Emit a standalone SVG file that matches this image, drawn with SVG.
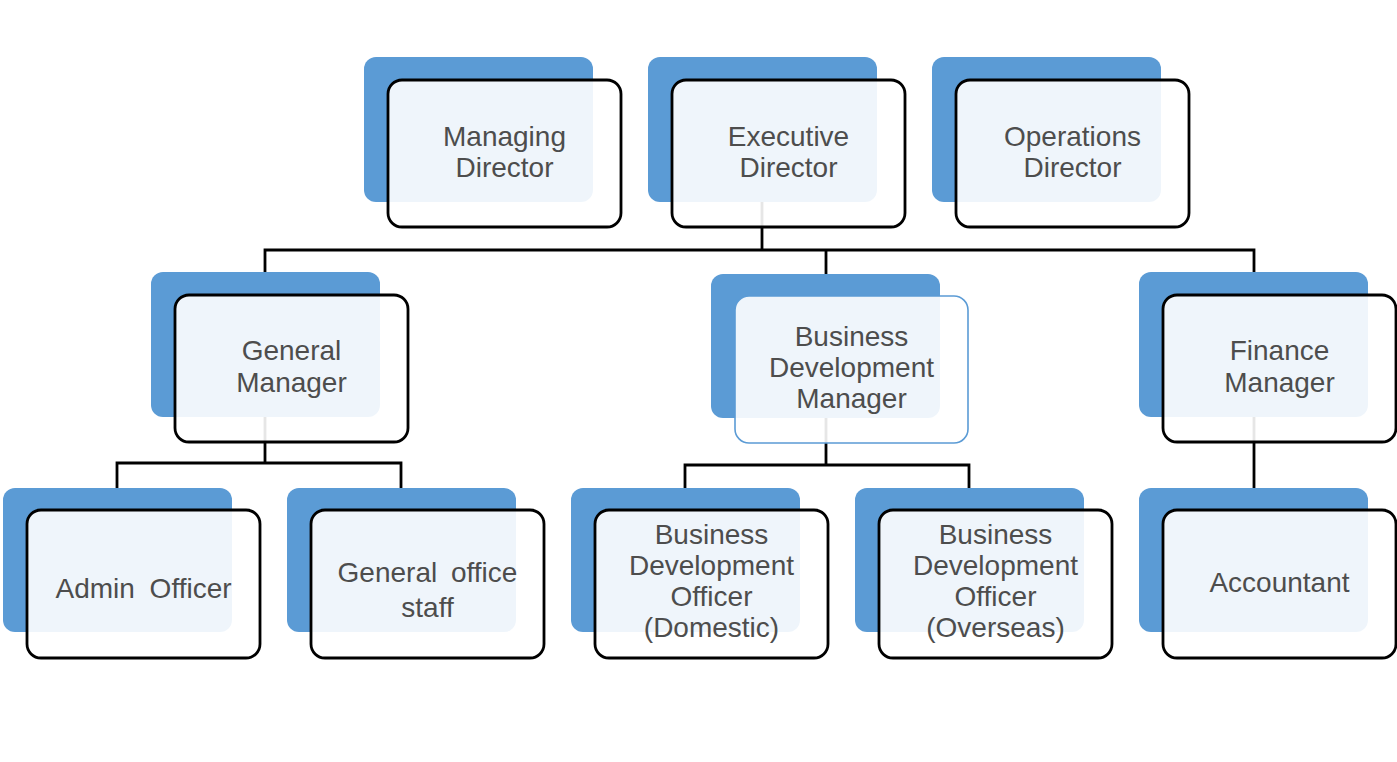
<svg xmlns="http://www.w3.org/2000/svg" width="1397" height="762" viewBox="0 0 1397 762">
<style>
.bg{fill:#5B9BD5}
.fr{fill:#FFFFFF;fill-opacity:0.9;stroke:#000000;stroke-width:2.8}
.frb{fill:#FFFFFF;fill-opacity:0.9;stroke:#5B9BD5;stroke-width:1.6}
.t{font-family:"Liberation Sans",Arial,sans-serif;font-size:28px;fill:#4D4D4D;text-anchor:middle}
.c{fill:none;stroke:#000000;stroke-width:2.8}
</style>
<rect width="1397" height="762" fill="#FFFFFF"/>
<g id="connectors">
<path class="c" d="M762 202 V250"/>
<path class="c" d="M265 272 V250 H1254 V272"/>
<path class="c" d="M826 250 V274"/>
<path class="c" d="M265 417 V463"/>
<path class="c" d="M117 488 V463 H401 V488"/>
<path class="c" d="M826 418 V465"/>
<path class="c" d="M685 488 V465 H969 V488"/>
<path class="c" d="M1254 417 V488"/>
</g>
<g id="managing-director">
<rect class="bg" x="364" y="57" width="229" height="145" rx="12"/>
<rect class="fr" x="388" y="80" width="233" height="147" rx="14"/>
<text class="t" x="504.5" y="146">Managing</text>
<text class="t" x="504.5" y="177">Director</text>
</g>
<g id="executive-director">
<rect class="bg" x="648" y="57" width="229" height="145" rx="12"/>
<rect class="fr" x="672" y="80" width="233" height="147" rx="14"/>
<text class="t" x="788.5" y="146">Executive</text>
<text class="t" x="788.5" y="177">Director</text>
</g>
<g id="operations-director">
<rect class="bg" x="932" y="57" width="229" height="145" rx="12"/>
<rect class="fr" x="956" y="80" width="233" height="147" rx="14"/>
<text class="t" x="1072.5" y="146">Operations</text>
<text class="t" x="1072.5" y="177">Director</text>
</g>
<g id="general-manager">
<rect class="bg" x="151" y="272" width="229" height="145" rx="12"/>
<rect class="fr" x="175" y="295" width="233" height="147" rx="14"/>
<text class="t" x="291.5" y="360">General</text>
<text class="t" x="291.5" y="392">Manager</text>
</g>
<g id="business-development-manager">
<rect class="bg" x="711" y="274" width="229" height="144" rx="12"/>
<rect class="frb" x="735" y="296" width="233" height="147" rx="14"/>
<text class="t" x="851.5" y="346">Business</text>
<text class="t" x="851.5" y="377">Development</text>
<text class="t" x="851.5" y="408">Manager</text>
</g>
<g id="finance-manager">
<rect class="bg" x="1139" y="272" width="229" height="145" rx="12"/>
<rect class="fr" x="1163" y="295" width="233" height="147" rx="14"/>
<text class="t" x="1279.5" y="360">Finance</text>
<text class="t" x="1279.5" y="392">Manager</text>
</g>
<g id="admin-officer">
<rect class="bg" x="3" y="488" width="229" height="144" rx="12"/>
<rect class="fr" x="27" y="510" width="233" height="148" rx="14"/>
<text class="t" x="143.5" y="598" word-spacing="7">Admin Officer</text>
</g>
<g id="general-office-staff">
<rect class="bg" x="287" y="488" width="229" height="144" rx="12"/>
<rect class="fr" x="311" y="510" width="233" height="148" rx="14"/>
<text class="t" x="427.5" y="582" word-spacing="6">General office</text>
<text class="t" x="427.5" y="617">staff</text>
</g>
<g id="bdo-domestic">
<rect class="bg" x="571" y="488" width="229" height="144" rx="12"/>
<rect class="fr" x="595" y="510" width="233" height="148" rx="14"/>
<text class="t" x="711.5" y="544">Business</text>
<text class="t" x="711.5" y="575">Development</text>
<text class="t" x="711.5" y="606">Officer</text>
<text class="t" x="711.5" y="637">(Domestic)</text>
</g>
<g id="bdo-overseas">
<rect class="bg" x="855" y="488" width="229" height="144" rx="12"/>
<rect class="fr" x="879" y="510" width="233" height="148" rx="14"/>
<text class="t" x="995.5" y="544">Business</text>
<text class="t" x="995.5" y="575">Development</text>
<text class="t" x="995.5" y="606">Officer</text>
<text class="t" x="995.5" y="637">(Overseas)</text>
</g>
<g id="accountant">
<rect class="bg" x="1139" y="488" width="229" height="144" rx="12"/>
<rect class="fr" x="1163" y="510" width="233" height="148" rx="14"/>
<text class="t" x="1279.5" y="592">Accountant</text>
</g>
</svg>
